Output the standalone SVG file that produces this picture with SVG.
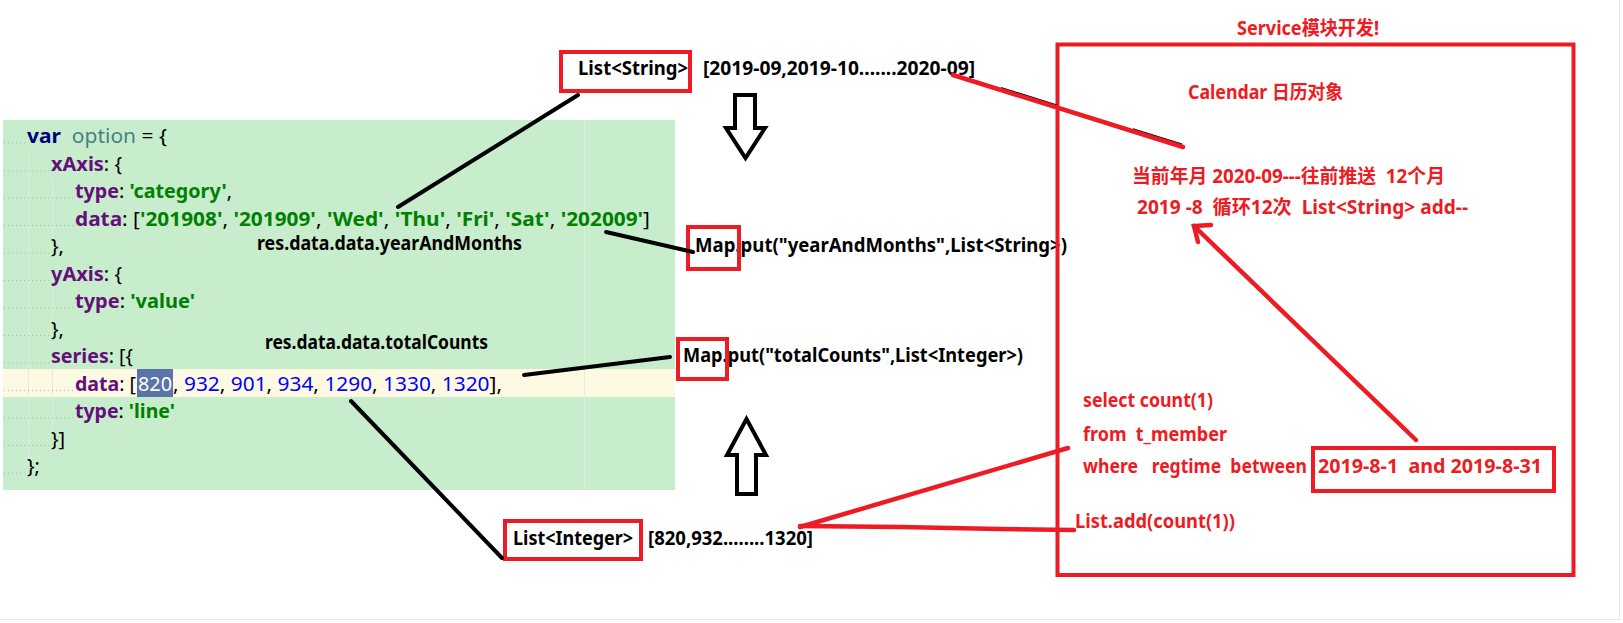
<svg xmlns="http://www.w3.org/2000/svg" width="1623" height="623" viewBox="0 0 1623 623">
<style>
.lbl{font-family:"Noto Sans","Noto Sans CJK SC",sans-serif;font-weight:700;font-size:19.5px;fill:#000}
.red{fill:#ed1c24}
.code{font-family:"Noto Sans",sans-serif;font-size:20px;fill:#000}
.k{fill:#660e7a;font-weight:700}
.s{fill:#008000;font-weight:700}
.n{fill:#0000ff}
.box{fill:none;stroke:#ed1c24;stroke-width:4}
.bl{stroke:#000;stroke-width:4;stroke-linecap:round;fill:none}
.rl{stroke:#ed1c24;stroke-width:4.5;stroke-linecap:round;fill:none}
.hollow{fill:#fff;stroke:#000;stroke-width:4}
.guide{stroke:#aab8ab;stroke-width:1;stroke-dasharray:1 3}
.vg{stroke:#e3ebe3;stroke-width:1}
</style>
<rect x="0" y="0" width="1623" height="623" fill="#fff"/>
<line x1="0" y1="619.5" x2="1620" y2="619.5" stroke="#e6e6e6" stroke-width="1"/>
<line x1="1619.5" y1="0" x2="1619.5" y2="620" stroke="#e6e6e6" stroke-width="1"/>

<g id="code">
<rect x="3" y="120" width="672" height="370" fill="#c7edcc"/>
<rect x="3" y="369" width="672" height="28" fill="#fef9e3"/>
<line class="vg" x1="584.5" y1="120" x2="584.5" y2="490"/>
<line class="vg" x1="28.5" y1="150" x2="28.5" y2="465"/>
<line class="vg" x1="52.5" y1="178" x2="52.5" y2="240"/>
<line class="vg" x1="52.5" y1="288" x2="52.5" y2="315"/>
<line class="vg" x1="52.5" y1="370" x2="52.5" y2="430"/>
<g>
<line class="guide" x1="4" y1="143" x2="26" y2="143"/>
<line class="guide" x1="4" y1="171" x2="50" y2="171"/>
<line class="guide" x1="4" y1="198" x2="74" y2="198"/>
<line class="guide" x1="4" y1="225.5" x2="74" y2="225.5"/>
<line class="guide" x1="4" y1="253" x2="50" y2="253"/>
<line class="guide" x1="4" y1="280.5" x2="50" y2="280.5"/>
<line class="guide" x1="4" y1="308" x2="74" y2="308"/>
<line class="guide" x1="4" y1="335.5" x2="50" y2="335.5"/>
<line class="guide" x1="4" y1="363" x2="50" y2="363"/>
<line class="guide" x1="4" y1="390.5" x2="74" y2="390.5"/>
<line class="guide" x1="4" y1="418" x2="74" y2="418"/>
<line class="guide" x1="4" y1="445.5" x2="50" y2="445.5"/>
<line class="guide" x1="4" y1="473" x2="26" y2="473"/>
</g>
<rect x="137" y="369" width="36" height="28" fill="#5a74a9"/>
<text class="code" x="27" y="143" xml:space="preserve" textLength="140" lengthAdjust="spacingAndGlyphs"><tspan fill="#000080" font-weight="700">var</tspan>  <tspan fill="#458383">option</tspan> = {</text>
<text class="code" x="51" y="171" textLength="71" lengthAdjust="spacingAndGlyphs"><tspan class="k">xAxis</tspan>: {</text>
<text class="code" x="75" y="198" textLength="157" lengthAdjust="spacingAndGlyphs"><tspan class="k">type</tspan>: <tspan class="s">'category'</tspan>,</text>
<text class="code" x="75" y="225.5" textLength="575" lengthAdjust="spacingAndGlyphs"><tspan class="k">data</tspan>: [<tspan class="s">'201908'</tspan>, <tspan class="s">'201909'</tspan>, <tspan class="s">'Wed'</tspan>, <tspan class="s">'Thu'</tspan>, <tspan class="s">'Fri'</tspan>, <tspan class="s">'Sat'</tspan>, <tspan class="s">'202009'</tspan>]</text>
<text class="code" x="51" y="253">},</text>
<text class="code" x="51" y="280.5" textLength="71" lengthAdjust="spacingAndGlyphs"><tspan class="k">yAxis</tspan>: {</text>
<text class="code" x="75" y="308" textLength="120" lengthAdjust="spacingAndGlyphs"><tspan class="k">type</tspan>: <tspan class="s">'value'</tspan></text>
<text class="code" x="51" y="335.5">},</text>
<text class="code" x="51" y="363" textLength="82" lengthAdjust="spacingAndGlyphs"><tspan class="k">series</tspan>: [{</text>
<text class="code" x="75" y="390.5" textLength="61" lengthAdjust="spacingAndGlyphs"><tspan class="k">data</tspan>: [</text>
<text class="code" x="138" y="390.5" style="fill:#fff" textLength="34" lengthAdjust="spacingAndGlyphs">820</text>
<text class="code" x="173" y="390.5" textLength="329" lengthAdjust="spacingAndGlyphs">, <tspan class="n">932</tspan>, <tspan class="n">901</tspan>, <tspan class="n">934</tspan>, <tspan class="n">1290</tspan>, <tspan class="n">1330</tspan>, <tspan class="n">1320</tspan>],</text>
<text class="code" x="75" y="418" textLength="100" lengthAdjust="spacingAndGlyphs"><tspan class="k">type</tspan>: <tspan class="s">'line'</tspan></text>
<text class="code" x="51" y="445.5">}]</text>
<text class="code" x="27" y="473">};</text>
</g>

<g id="label-yearAndMonths">
<text class="lbl" x="257" y="250" textLength="265" lengthAdjust="spacingAndGlyphs">res.data.data.yearAndMonths</text>
</g>
<g id="label-totalCounts">
<text class="lbl" x="265" y="349" textLength="223" lengthAdjust="spacingAndGlyphs">res.data.data.totalCounts</text>
</g>

<g id="list-string">
<rect class="box" x="561" y="52" width="129" height="39"/>
<text class="lbl" x="578" y="75" textLength="110" lengthAdjust="spacingAndGlyphs">List&lt;String&gt;</text>
<text class="lbl" x="703" y="75" textLength="272" lengthAdjust="spacingAndGlyphs">[2019-09,2019-10.......2020-09]</text>
</g>

<g id="map-yearAndMonths">
<text class="lbl" x="695" y="252" textLength="372" lengthAdjust="spacingAndGlyphs">Map.put("yearAndMonths",List&lt;String&gt;)</text>
<rect class="box" x="688" y="227" width="51" height="42"/>
</g>

<g id="map-totalCounts">
<text class="lbl" x="683" y="362" textLength="340" lengthAdjust="spacingAndGlyphs">Map.put("totalCounts",List&lt;Integer&gt;)</text>
<rect class="box" x="678" y="339" width="49" height="40"/>
</g>

<g id="list-integer">
<rect class="box" x="505" y="521" width="136" height="38"/>
<text class="lbl" x="513" y="545" textLength="120" lengthAdjust="spacingAndGlyphs">List&lt;Integer&gt;</text>
<text class="lbl" x="648" y="545" textLength="165" lengthAdjust="spacingAndGlyphs">[820,932........1320]</text>
</g>

<g id="service">
<text class="lbl red" x="1237" y="35" textLength="142" lengthAdjust="spacingAndGlyphs">Service模块开发!</text>
<rect class="box" x="1057.5" y="44.5" width="516" height="530.5"/>
<text class="lbl red" x="1188" y="99" textLength="155" lengthAdjust="spacingAndGlyphs">Calendar 日历对象</text>
<text class="lbl red" x="1132" y="183" xml:space="preserve" textLength="313" lengthAdjust="spacingAndGlyphs">当前年月 2020-09---往前推送  12个月</text>
<text class="lbl red" x="1137" y="214" xml:space="preserve" textLength="331" lengthAdjust="spacingAndGlyphs">2019 -8  循环12次  List&lt;String&gt; add--</text>
<text class="lbl red" x="1083" y="407" textLength="130" lengthAdjust="spacingAndGlyphs">select count(1)</text>
<text class="lbl red" x="1083" y="441" xml:space="preserve" textLength="144" lengthAdjust="spacingAndGlyphs">from  t_member</text>
<text class="lbl red" x="1083" y="473" xml:space="preserve" textLength="224" lengthAdjust="spacingAndGlyphs">where   regtime  between</text>
<rect class="box" x="1313" y="448" width="241" height="43"/>
<text class="lbl red" x="1318" y="473" xml:space="preserve" textLength="224" lengthAdjust="spacingAndGlyphs">2019-8-1  and 2019-8-31</text>
<text class="lbl red" x="1075" y="528" textLength="160" lengthAdjust="spacingAndGlyphs">List.add(count(1))</text>
</g>

<g id="connectors">
<path class="hollow" d="M735,95 H755 V128 H765 L745.5,158 L726,128 H735 Z"/>
<path class="hollow" d="M746.5,419 L766,455 H756 V494 H737 V455 H727 Z"/>
<line class="bl" x1="578" y1="95" x2="398" y2="207"/>
<line class="bl" x1="606" y1="232" x2="693" y2="252"/>
<line class="bl" x1="524" y1="375" x2="670" y2="357"/>
<line class="bl" x1="351" y1="401" x2="502" y2="558"/>
<line x1="1001" y1="87.6" x2="1057" y2="105.1" stroke="#000" stroke-width="1.3"/>
<line x1="1133" y1="128.9" x2="1182" y2="144.2" stroke="#000" stroke-width="1.3"/>
<line class="rl" x1="953" y1="75" x2="1183" y2="147"/>
<line class="rl" x1="800" y1="527" x2="1068" y2="448"/>
<path class="rl" d="M800,526 L900,527 L1000,529 L1074,530"/>
<line class="rl" x1="1416" y1="440" x2="1194" y2="226"/>
<path class="rl" d="M1211,225 L1194,226 L1198,242"/>
</g>
</svg>
